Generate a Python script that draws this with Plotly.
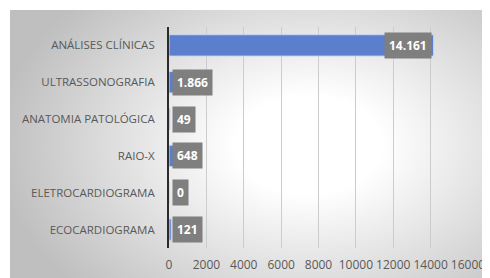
import base64, struct, zlib, math
import plotly.graph_objects as go

categories = ["ANÁLISES CLÍNICAS", "ULTRASSONOGRAFIA", "ANATOMIA PATOLÓGICA",
              "RAIO-X", "ELETROCARDIOGRAMA", "ECOCARDIOGRAMA"]
values = [14161, 1866, 49, 648, 0, 121]
x_ticks = [0, 2000, 4000, 6000, 8000, 10000, 12000, 14000, 16000]

# page body has an 8px default margin: compensate
OFF = 8
W, H = 490, 278
# target plot area in window pixels: x 169..468, y 27..248
L = 169 - OFF
T = 27 - OFF
R = W - (468 - OFF)
B = H - (248 - OFF)
plot_w = W - L - R
plot_h = H - T - B


def gradient_png(w, h):
    rows = []
    cx, cy = 0.62 * w, 0.5 * h
    for j in range(h):
        row = bytearray([0])
        for i in range(w):
            dx = (i - cx) / (0.62 * w)
            dy = (j - cy) / (0.75 * h)
            d = math.sqrt(dx * dx + dy * dy)
            t = max(0.0, min(1.0, (d - 0.25) / 0.8))
            g = int(round(255 - 64 * t))
            row += bytes([g, g, g])
        rows.append(bytes(row))
    raw = b"".join(rows)

    def chunk(tag, data):
        c = struct.pack(">I", len(data)) + tag + data
        return c + struct.pack(">I", zlib.crc32(tag + data) & 0xffffffff)

    png = b"\x89PNG\r\n\x1a\n"
    png += chunk(b"IHDR", struct.pack(">IIBBBBB", w, h, 8, 2, 0, 0, 0))
    png += chunk(b"IDAT", zlib.compress(raw, 9))
    png += chunk(b"IEND", b"")
    return "data:image/png;base64," + base64.b64encode(png).decode()


img = gradient_png(240, 134)

fig = go.Figure()
fig.add_trace(go.Bar(
    y=categories, x=values, orientation="h",
    marker=dict(color="#5b7fcc", line=dict(color="#c9d6f0", width=1)),
    hoverinfo="skip",
))

xmax = 16000
annotations = []
for cat, v in zip(categories, values):
    txt = f"{v:,}".replace(",", ".")
    px = v / xmax * plot_w
    common = dict(y=cat, xref="x", yref="y", text=f"<b>{txt}</b>",
                  showarrow=False, bgcolor="#7f7f7f", borderpad=4,
                  font=dict(color="white", size=12, family="Open Sans"))
    if px > 70:
        annotations.append(dict(x=v, xanchor="right", xshift=-2, **common))
    else:
        annotations.append(dict(x=0, xanchor="left", xshift=3, **common))

# gradient frame: window pixels (10,10) .. (490,278)
fx0, fy0, fx1, fy1 = 10 - OFF, 10 - OFF, W - OFF, H - OFF
x0p = (fx0 - L) / plot_w
x1p = (fx1 - L) / plot_w
y1p = (H - B - fy0) / plot_h
y0p = (H - B - fy1) / plot_h

fig.update_layout(
    width=W, height=H,
    margin=dict(l=L, r=R, t=T, b=B),
    paper_bgcolor="white",
    plot_bgcolor="rgba(0,0,0,0)",
    showlegend=False,
    bargap=0.42,
    font=dict(family="Open Sans", size=12, color="#595959"),
    images=[dict(source=img, xref="paper", yref="paper", x=x0p, y=y1p,
                 sizex=x1p - x0p, sizey=y1p - y0p, sizing="stretch",
                 xanchor="left", yanchor="top", layer="below")],
    annotations=annotations,
    xaxis=dict(range=[0, xmax], tickvals=x_ticks, ticktext=[str(t) for t in x_ticks],
               showgrid=True, gridcolor="#cccccc", gridwidth=1,
               zeroline=False, showline=False, ticks="", automargin=False,
               tickfont=dict(size=12, color="#595959"), ticklabelstandoff=8,
               fixedrange=True),
    yaxis=dict(categoryorder="array", categoryarray=categories[::-1],
               showgrid=False, zeroline=False, automargin=False,
               showline=True, linecolor="#2b2b2b", linewidth=2,
               ticks="", ticklabelstandoff=10,
               tickfont=dict(size=11.5, color="#595959"), fixedrange=True),
)

fig.write_html("out.html")
